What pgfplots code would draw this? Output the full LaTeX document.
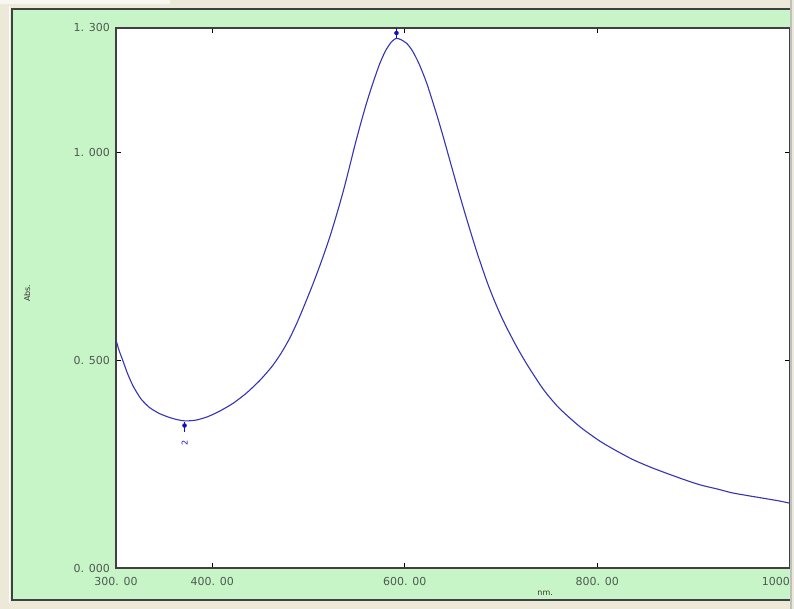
\documentclass[border=0pt]{standalone}
\usepackage{fontspec}
\setmainfont{DejaVu Sans}
\usepackage{pgfplots}
\pgfplotsset{compat=1.18}
\definecolor{bgbeige}{HTML}{ECE9D8}
\definecolor{panelgreen}{HTML}{C8F5C8}
\definecolor{framegray}{HTML}{404040}
\definecolor{ticktext}{HTML}{4D5A4D}
\definecolor{curveblue}{HTML}{3434B4}
\definecolor{markblue}{HTML}{1010C0}
\begin{document}
\begin{tikzpicture}[x=1pt,y=1pt]
\useasboundingbox (0,0) rectangle (794,609);
\fill[bgbeige] (0,0) rectangle (794,609);
\fill[white!60!bgbeige] (0,605) rectangle (170,609);
\draw[white, line width=1pt] (9,6) -- (9,603);
\fill[panelgreen] (12,9) rectangle (792,600);
\draw[framegray, line width=1.2pt] (792,9) -- (12,9) -- (12,600) -- (792,600);
\begin{axis}[
  scale only axis,
  width=673.75pt, height=540pt,
  at={(116pt,41pt)}, anchor=south west,
  xmin=300, xmax=1000, ymin=0, ymax=1.3,
  axis background/.style={fill=white},
  axis line style={draw=framegray, line width=1.5pt},
  tick align=inside,
  major tick length=5pt,
  tick style={draw=black, line width=0.8pt},
  xtick={300,400,600,800,1000},
  xticklabels={300. 00, 400. 00, 600. 00, 800. 00, \makebox[0pt][r]{1000}},
  ytick={0,0.5,1,1.3},
  yticklabels={0. 000, 0. 500, 1. 000, 1. 300},
  ticklabel style={font=\fontsize{11}{13}\selectfont, text=ticktext},
  xticklabel style={inner sep=0pt, anchor=north, yshift=-9pt},
  yticklabel style={inner sep=0pt, anchor=east, xshift=-6pt},
  xlabel={nm.},
  ylabel={Abs.},
  label style={font=\fontsize{8}{10}\selectfont, text=black!80},
  xlabel style={at={(rel axis cs:0.637,0)}, anchor=center, yshift=-25pt},
  ylabel style={at={(rel axis cs:-0.132,0.509)}, anchor=center},
  clip=true,
]
\addplot[curveblue, line width=1.1pt, smooth, tension=0.4] coordinates {
(300,0.549) (303,0.525) (307,0.500) (312,0.468) (318,0.437) (326,0.407)
(335,0.386) (345,0.372) (356,0.362) (364,0.357) (372,0.354) (383,0.356)
(395,0.364) (408,0.378) (422,0.397) (436,0.422) (450,0.453) (462,0.485)
(471,0.515) (480,0.551) (488,0.590) (496,0.634) (505,0.686) (514,0.742)
(522,0.796) (529,0.849) (536,0.906) (542,0.960) (548,1.016) (554,1.068)
(560,1.117) (567,1.168) (574,1.214) (580,1.245) (586,1.266) (591,1.275)
(596,1.272) (602,1.263) (608,1.245) (615,1.213) (623,1.166) (633,1.093)
(640,1.038) (647,0.980) (656,0.906) (665,0.835) (675,0.760) (685,0.692)
(692,0.650) (699,0.612) (706,0.578) (716,0.534) (727,0.490) (744,0.430)
(760,0.386) (782,0.340) (803,0.305) (820,0.282) (837,0.261) (855,0.243)
(872,0.228) (890,0.213) (907,0.200) (925,0.190) (940,0.181) (957,0.174)
(975,0.167) (990,0.161) (1000,0.156)
};
% peak marker 1
\addplot[markblue, line width=0.8pt] coordinates {(591.4,1.276) (591.4,1.300)};
\addplot[only marks, mark=*, mark size=2pt, markblue] coordinates {(591.4,1.288)};
% valley marker 2
\addplot[markblue, line width=0.8pt] coordinates {(371.2,0.352) (371.2,0.327)};
\addplot[only marks, mark=*, mark size=2pt, markblue] coordinates {(371.2,0.343)};
\node[text=markblue, font=\fontsize{8}{10}\selectfont, rotate=90, inner sep=0pt] at (axis cs:371.2,0.301) {2};
\end{axis}
\fill[black!25] (790,0) rectangle (792,609);
\fill[bgbeige] (792,0) rectangle (794,609);
\end{tikzpicture}
\end{document}
